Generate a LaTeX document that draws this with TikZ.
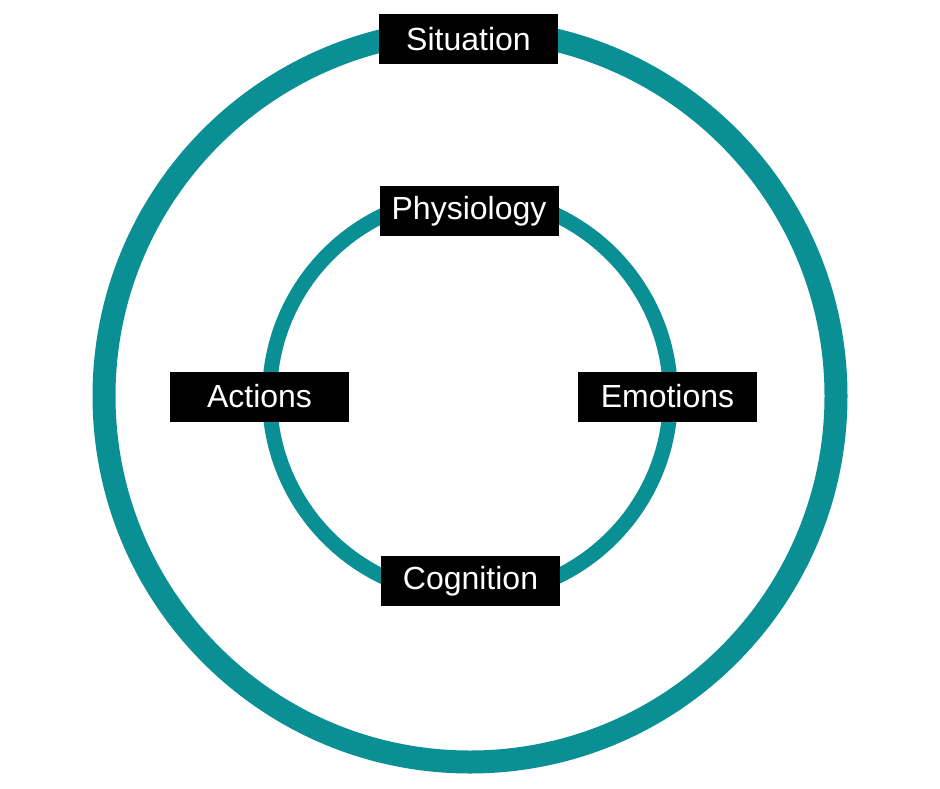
\documentclass[tikz,border=0pt]{standalone}
\usepackage{fontspec}
\setmainfont{Liberation Sans}
\usepackage{tikz}
\definecolor{teal}{RGB}{10,144,148}
\tikzstyle{ring}=[circle,draw=teal,inner sep=0pt]
\tikzstyle{tag}=[rectangle,fill=black,text=white,minimum width=179pt,
minimum height=50pt,inner sep=0pt,font=\fontsize{32}{32}\selectfont]
\usetikzlibrary{positioning}

\begin{document}
\begin{tikzpicture}[x=1pt,y=-1pt]
  		\useasboundingbox (0,0) rectangle (940,788);
  		\node[ring,line width=23pt,minimum size=732pt] (outer) at (470,396) {};
  		\node[ring,line width=15pt,minimum size=401pt] (inner) at (470,396) {};

  		\node[tag] (situation) at (468.5,39) {Situation};
  		\node[tag] (physiology) at (469,211) {Physiology};
  		\node[tag] (actions) at (259.5,396.5) {Actions};
  		\node[tag] (emotions) at (667.5,396.5) {Emotions};
  		\node[tag] (cognition) at (470.5,581) {Cognition};

	\end{tikzpicture}
\end{document}
